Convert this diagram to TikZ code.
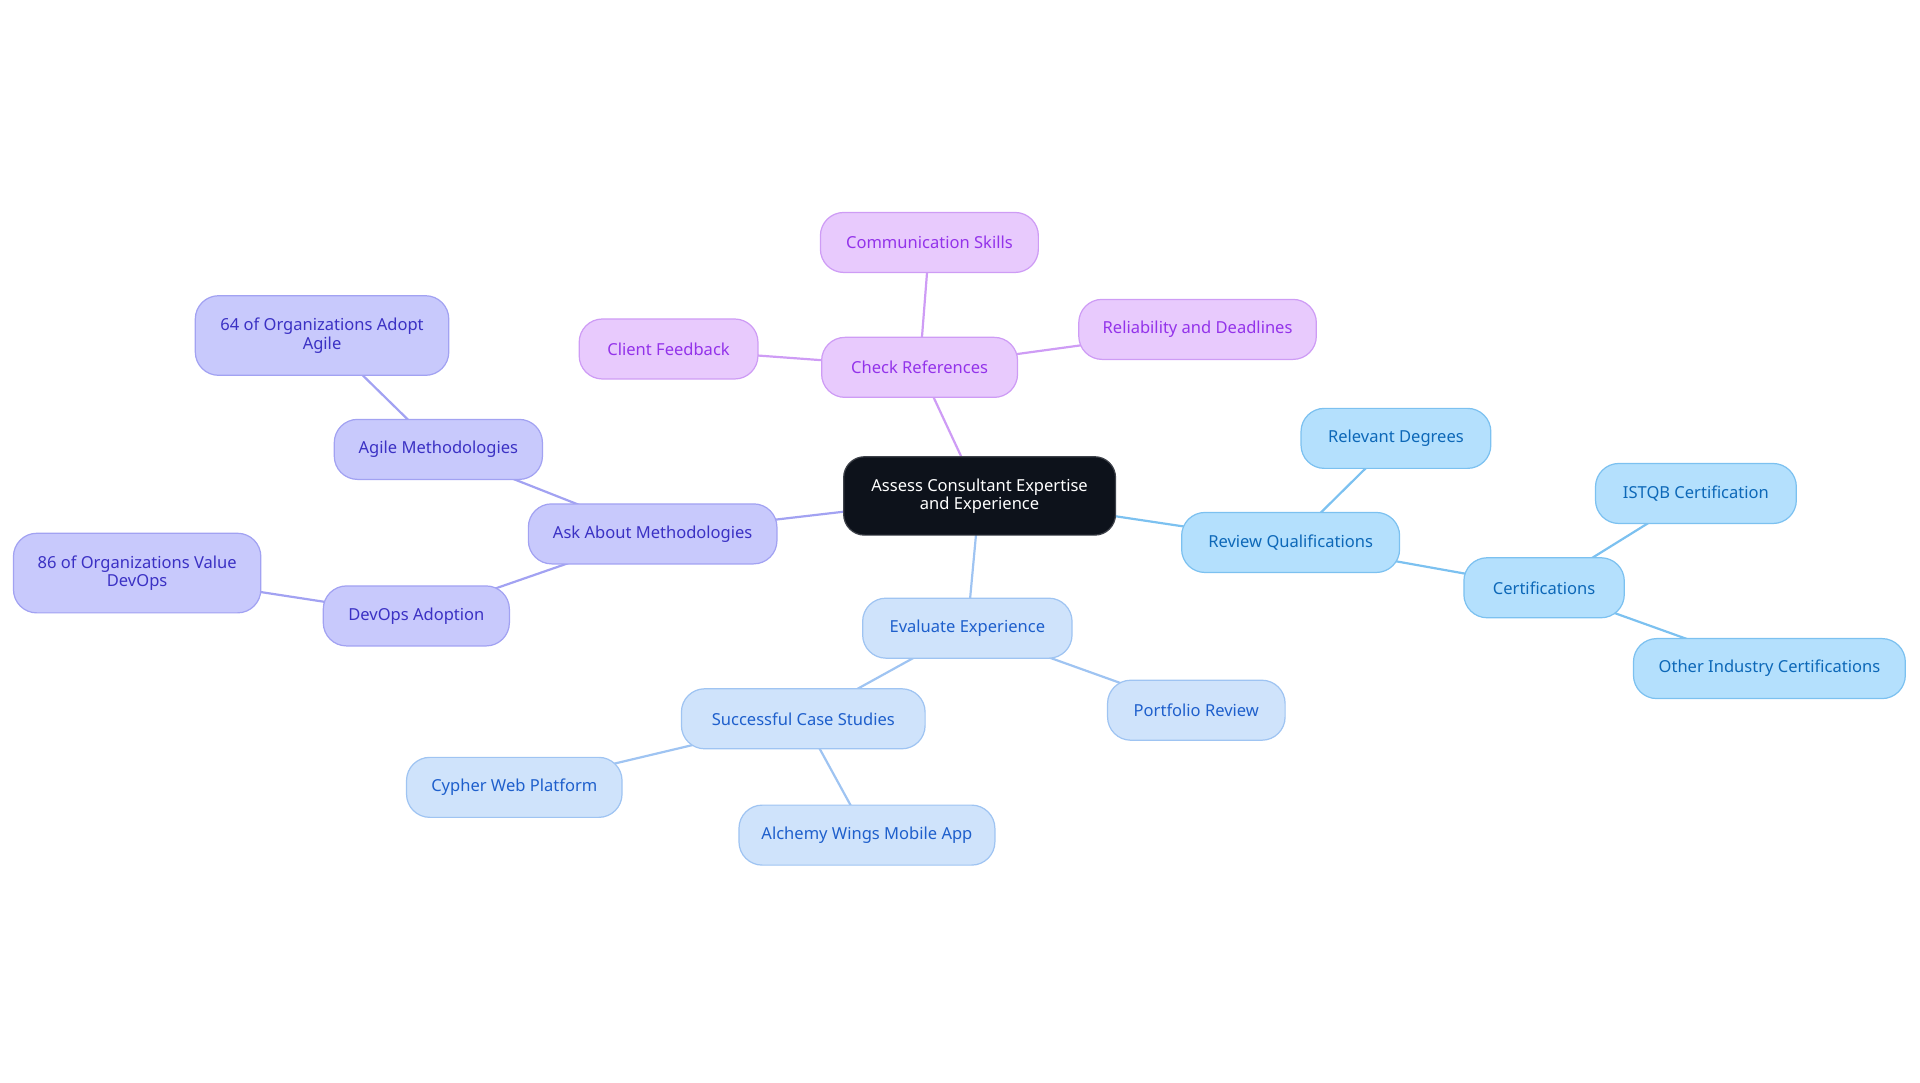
\documentclass[tikz,border=0pt]{standalone}
\usepackage{fontspec}
\setmainfont{Noto Sans}
\usetikzlibrary{backgrounds}

\definecolor{rootFill}{HTML}{0D121B}
\definecolor{refFill}{HTML}{E8CAFD}
\definecolor{refLine}{HTML}{CE9CF5}
\definecolor{refText}{HTML}{9333EA}
\definecolor{metFill}{HTML}{C8C9FC}
\definecolor{metLine}{HTML}{A2A2F2}
\definecolor{metText}{HTML}{3B31C4}
\definecolor{quaFill}{HTML}{B4E0FD}
\definecolor{quaLine}{HTML}{7CC1F0}
\definecolor{quaText}{HTML}{0D68B8}
\definecolor{expFill}{HTML}{CFE3FB}
\definecolor{expLine}{HTML}{9FC4F2}
\definecolor{expText}{HTML}{1E5FCC}

\tikzset{
  topic/.style={rounded corners=19pt, draw, line width=1pt, minimum height=49pt,
    inner sep=0pt, align=center, font=\fontsize{13.5}{15}\selectfont},
  rootbox/.style={topic, rounded corners=17pt, fill=rootFill, draw=rootFill!80!white, text=white, minimum height=64pt},
  refbox/.style={topic, fill=refFill, draw=refLine, text=refText},
  metbox/.style={topic, fill=metFill, draw=metLine, text=metText},
  quabox/.style={topic, fill=quaFill, draw=quaLine, text=quaText},
  expbox/.style={topic, fill=expFill, draw=expLine, text=expText},
  link/.style={line width=1.8pt}
}

\begin{document}
\begin{tikzpicture}[x=1pt,y=-1pt]
  \useasboundingbox (0,0) rectangle (1568,884.4);

  % Central node
  \node[rootbox, minimum width=222pt] (root) at (800,405) {Assess Consultant Expertise\\and Experience};

  % Check references branch
  \node[refbox, minimum width=160pt] (refs) at (751,300) {Check References};
  \node[refbox, minimum width=178pt] (comm) at (759,198) {Communication Skills};
  \node[refbox, minimum width=194pt] (reli) at (978,269) {Reliability and Deadlines};
  \node[refbox, minimum width=146pt] (feed) at (546,285) {Client Feedback};

  % Methodologies branch
  \node[metbox, minimum width=203pt] (meth) at (533,436) {Ask About Methodologies};
  \node[metbox, minimum width=170pt] (agile) at (358,367) {Agile Methodologies};
  \node[metbox, minimum width=207pt, minimum height=65pt] (agilestat) at (263,274) {64 of Organizations Adopt\\Agile};
  \node[metbox, minimum width=152pt] (devops) at (340,503) {DevOps Adoption};
  \node[metbox, minimum width=202pt, minimum height=65pt] (devopsstat) at (112,468) {86 of Organizations Value\\DevOps};

  % Qualifications branch
  \node[quabox, minimum width=178pt] (qual) at (1054,443) {Review Qualifications};
  \node[quabox, minimum width=155pt] (degr) at (1140,358) {Relevant Degrees};
  \node[quabox, minimum width=131pt] (cert) at (1261,480) {Certifications};
  \node[quabox, minimum width=164pt] (istqb) at (1385,403) {ISTQB Certification};
  \node[quabox, minimum width=222pt] (other) at (1445,546) {Other Industry Certifications};

  % Experience branch
  \node[expbox, minimum width=171pt] (expe) at (790,513) {Evaluate Experience};
  \node[expbox, minimum width=145pt] (port) at (977,580) {Portfolio Review};
  \node[expbox, minimum width=199pt] (case) at (656,587) {Successful Case Studies};
  \node[expbox, minimum width=176pt] (cyph) at (420,643) {Cypher Web Platform};
  \node[expbox, minimum width=209pt] (alch) at (708,682) {Alchemy Wings Mobile App};

  % Links behind the nodes
  \begin{scope}[on background layer]
    \draw[link, refLine] (root.center) -- (refs.center);
    \draw[link, refLine] (refs.center) -- (comm.center);
    \draw[link, refLine] (refs.center) -- (reli.center);
    \draw[link, refLine] (refs.center) -- (feed.center);
    \draw[link, metLine] (root.center) -- (meth.center);
    \draw[link, metLine] (meth.center) -- (agile.center);
    \draw[link, metLine] (agile.center) -- (agilestat.center);
    \draw[link, metLine] (meth.center) -- (devops.center);
    \draw[link, metLine] (devops.center) -- (devopsstat.center);
    \draw[link, quaLine] (root.center) -- (qual.center);
    \draw[link, quaLine] (qual.center) -- (degr.center);
    \draw[link, quaLine] (qual.center) -- (cert.center);
    \draw[link, quaLine] (cert.center) -- (istqb.center);
    \draw[link, quaLine] (cert.center) -- (other.center);
    \draw[link, expLine] (root.center) -- (expe.center);
    \draw[link, expLine] (expe.center) -- (port.center);
    \draw[link, expLine] (expe.center) -- (case.center);
    \draw[link, expLine] (case.center) -- (cyph.center);
    \draw[link, expLine] (case.center) -- (alch.center);
  \end{scope}
\end{tikzpicture}
\end{document}
